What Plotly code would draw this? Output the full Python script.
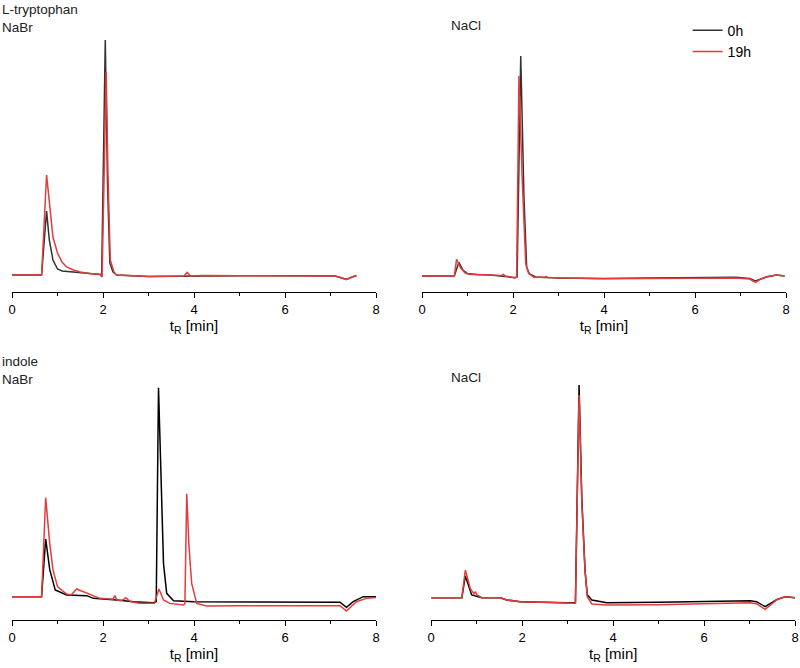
import plotly.graph_objects as go
from plotly.subplots import make_subplots

# retention time [min] / detector signal (arbitrary units, baseline = 0)
trp_nabr_0h_x = [0, 0.65, 0.76, 0.82, 0.9, 1.0, 1.1, 1.3, 1.5, 1.7, 1.95, 1.97, 2.05, 2.10, 2.15, 2.22, 2.3,
                 3.0, 3.8, 4.2, 5.0, 6.0, 7.1, 7.25, 7.35, 7.45, 7.57]
trp_nabr_0h_y = [0, 0, 64, 35, 15, 6, 4, 3, 2, 1.5, 0.5, -2, 235, 90, 12, 3, 0,
                 -1.5, -1, -0.5, -0.7, -0.7, -1, -3, -4.5, -2.5, -0.5]
trp_nabr_19h_x = [0, 0.65, 0.76, 0.82, 0.9, 1.0, 1.1, 1.2, 1.35, 1.5, 1.7, 1.95, 1.98, 2.07, 2.11, 2.16, 2.24, 2.3,
                  3.0, 3.78, 3.85, 3.92, 4.2, 5.0, 6.0, 7.1, 7.25, 7.35, 7.45, 7.57]
trp_nabr_19h_y = [0, 0, 100, 70, 38, 22, 13, 8, 5, 3, 1.5, 0.5, -2, 203, 100, 15, 3, 0,
                  -1.5, -1, 2.5, -1, -0.5, -0.7, -0.7, -1, -3, -4.5, -2.5, -0.5]

trp_nacl_0h_x = [0, 0.71, 0.81, 0.9, 1.0, 1.2, 1.5, 1.75, 2.05, 2.09, 2.17, 2.24, 2.3, 2.36, 2.5,
                 3.0, 4.0, 5.0, 6.0, 6.9, 7.2, 7.33, 7.45, 7.57, 7.79, 7.97]
trp_nacl_0h_y = [0, 0, 13.7, 6, 2.5, 1.5, 1, 0, -1.7, -1, 220, 80, 9, 2, -1,
                 -2, -2.5, -2, -1.5, -1.3, -2.5, -5, -3, -1, 1, 0]
trp_nacl_19h_x = [0, 0.71, 0.76, 0.85, 0.95, 1.05, 1.2, 1.5, 1.75, 1.79, 1.83, 2.05, 2.08, 2.13, 2.2, 2.28, 2.34,
                  2.45, 2.7, 2.73, 2.76, 3.9, 5.0, 6.0, 6.9, 7.2, 7.33, 7.45, 7.57, 7.79, 7.97]
trp_nacl_19h_y = [0, 0, 16.7, 8, 3, 1.5, 1.5, 1, 0.5, 1.5, 0, -1.7, -1, 200, 100, 12, 3,
                  -1, -1.5, -0.5, -1.5, -2.7, -2.5, -2.2, -2, -3, -6.5, -3, -0.7, 1, 0]

ind_nabr_0h_x = [0, 0.65, 0.74, 0.83, 0.95, 1.2, 1.64, 1.79, 2.3, 2.67, 3.1, 3.17, 3.22, 3.28, 3.33, 3.4, 3.55,
                 4.0, 5.0, 6.0, 7.21, 7.35, 7.5, 7.72, 8]
ind_nabr_0h_y = [0, 0, 57.7, 27, 6.7, 1.7, 1, -1.7, -3.3, -5, -6, -5, 209, 110, 33, 3.3, -4,
                 -5, -5, -5, -5.5, -10.7, -5, 0, 0]
ind_nabr_19h_x = [0, 0.65, 0.74, 0.83, 0.9, 1.0, 1.2, 1.3, 1.42, 1.64, 1.93, 2.22, 2.26, 2.3, 2.37, 2.45,
                  2.5, 2.56, 2.62, 2.8, 3.13, 3.23, 3.33, 3.47, 3.77, 3.8, 3.84, 3.89, 3.95, 4.06, 4.28,
                  5.0, 6.0, 7.21, 7.35, 7.57, 7.79, 8]
ind_nabr_19h_y = [0, 0, 99, 53, 27, 10, 2.7, 1.7, 7.7, 3.3, -1.7, -2.5, 1, -3, -4, -3,
                  -1, -3.5, -5, -6.7, -6.7, 7.7, -3.3, -6.7, -8.3, -7, 103, 50, 13, -6.7, -9.3,
                  -9, -8.7, -9, -14.3, -5, -1.7, -0.7]

ind_nacl_0h_x = [0, 0.674, 0.75, 0.89, 1.11, 1.52, 1.66, 1.96, 2.98, 3.17, 3.25, 3.31, 3.38, 3.43, 3.53,
                 3.86, 5.0, 6.0, 7.01, 7.15, 7.34, 7.6, 7.78, 8]
ind_nacl_0h_y = [0, 0, 21.7, 2.7, 0, 0, -2.3, -4, -5, -5, 212.7, 100, 27.7, 3, -2.3,
                 -5, -4.5, -4, -3, -4, -9, -1.7, 1, 0]
ind_nacl_19h_x = [0, 0.674, 0.75, 0.86, 0.94, 0.97, 1.0, 1.11, 1.52, 1.66, 1.96, 2.98, 3.17, 3.25, 3.31,
                  3.38, 3.43, 3.53, 3.86, 5.0, 6.0, 7.01, 7.15, 7.34, 7.6, 7.78, 8]
ind_nacl_19h_y = [0, 0, 27.7, 9, 4, 6, 3, 0, 0, -2.3, -4, -5.5, -5.5, 202.7, 95,
                  27.7, 1, -6.3, -7.3, -7, -6, -5, -6, -11.7, -2, 1, 0]

tick_vals = [0, 2, 4, 6, 8]
labels = ["0h", "19h"]

black_top = "#333333"
red = "#e23c3c"
font = "Arial, Liberation Sans, sans-serif"

fig = make_subplots(rows=2, cols=2)

panels = [
    (1, 1, trp_nabr_0h_x, trp_nabr_0h_y, trp_nabr_19h_x, trp_nabr_19h_y, black_top),
    (1, 2, trp_nacl_0h_x, trp_nacl_0h_y, trp_nacl_19h_x, trp_nacl_19h_y, black_top),
    (2, 1, ind_nabr_0h_x, ind_nabr_0h_y, ind_nabr_19h_x, ind_nabr_19h_y, "#000000"),
    (2, 2, ind_nacl_0h_x, ind_nacl_0h_y, ind_nacl_19h_x, ind_nacl_19h_y, "#000000"),
]
for i, (r, c, x0, y0, x1, y1, kcol) in enumerate(panels):
    fig.add_trace(go.Scatter(x=x0, y=y0, mode="lines", name=labels[0],
                             line=dict(color=kcol, width=1.5), showlegend=(i == 0)), row=r, col=c)
    fig.add_trace(go.Scatter(x=x1, y=y1, mode="lines", name=labels[1],
                             line=dict(color=red, width=1.5), showlegend=(i == 0)), row=r, col=c)

xdomains = {(1, 1): [0.015, 0.47], (1, 2): [0.5275, 0.9825],
            (2, 1): [0.015, 0.47], (2, 2): [0.539, 0.994]}
ydomains = {1: [0.5629, 0.9626], 2: [0.0719, 0.4716]}
yranges = {(1, 1): [-17, 250], (1, 2): [-16, 251], (2, 1): [-23.3, 243.7], (2, 2): [-22.3, 244.7]}

for (r, c), dom in xdomains.items():
    fig.update_xaxes(domain=dom, range=[0, 8], tickvals=tick_vals, showline=True, linecolor="black",
                     linewidth=1, ticks="outside", ticklen=5, tickcolor="black", showgrid=False,
                     zeroline=False, automargin=False, tickfont=dict(size=13, color="black"),
                     minor=dict(tickvals=[1, 3, 5, 7], ticks="outside", ticklen=3, tickcolor="black"),
                     title=dict(text="t<sub>R</sub> [min]", font=dict(size=15, color="black"), standoff=4),
                     row=r, col=c)
    fig.update_yaxes(domain=ydomains[r], range=yranges[(r, c)], visible=False, automargin=False,
                     row=r, col=c)

def note(text, xpx, ypx):
    fig.add_annotation(text=text, x=xpx / 800, y=1 - ypx / 668, xref="paper", yref="paper",
                       xanchor="left", yanchor="top", showarrow=False, align="left",
                       font=dict(size=13.5, color="#222222"))

note("L-tryptophan<br>NaBr", 0, 0)
note("NaCl", 449, 16)
note("indole<br>NaBr", 0, 352)
note("NaCl", 449, 368)

fig.update_layout(
    width=800, height=668,
    margin=dict(l=0, r=0, t=0, b=0),
    paper_bgcolor="white", plot_bgcolor="white",
    font=dict(family=font, color="black"),
    legend=dict(x=0.8595, y=0.978, xanchor="left", yanchor="top", font=dict(size=14),
                bgcolor="rgba(0,0,0,0)", tracegroupgap=0),
)

# drop the browser's default body margin so the figure sits at the page corner
fig.write_html("out.html", config={"displayModeBar": False},
               post_script="document.body.style.margin='0';")
